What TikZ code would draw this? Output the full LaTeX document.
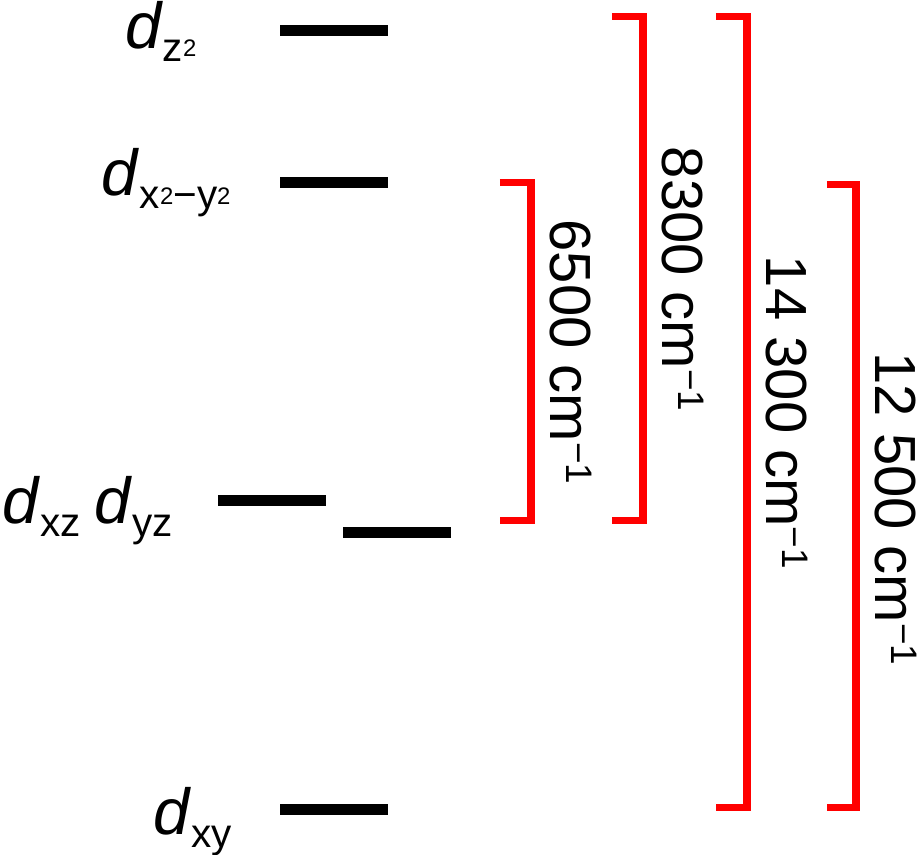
\documentclass[tikz,border=0pt]{standalone}
\usepackage{fontspec}
\setmainfont{Liberation Sans}
\usepackage{tikz}
\usetikzlibrary{positioning,calc}

\newcommand{\dorb}[1]{\textit{d}\raisebox{-0.2em}{\fontsize{11.5pt}{13pt}\selectfont #1}}
\newcommand{\tsq}{\raisebox{0.12em}{\fontsize{6.8pt}{8pt}\selectfont 2}}
\newcommand{\invcm}{cm\raisebox{0.28em}{\fontsize{10.5pt}{12pt}\selectfont −1}}

\begin{document}
\begin{tikzpicture}[x=0.01cm, y=-0.01cm,
  level/.style={fill=black, minimum width=1.08cm, minimum height=0.11cm, inner sep=0pt},
  orb/.style={font=\fontsize{18.5pt}{22pt}\selectfont, inner sep=0pt},
  gap/.style={red, line width=0.07cm, line join=miter},
  gaplabel/.style={rotate=-90, anchor=south, inner sep=0.15cm, text=black, font=\fontsize{16.5pt}{20pt}\selectfont}]
  \useasboundingbox (0,0) rectangle (917,855);
  % energy levels
  \node [level] at (334,31) (z2) {};
  \node [level] at (334,183) (x2y2) {};
  \node [level] at (272,501) (xz) {};
  \node [level] at (397,533) (yz) {};
  \node [level] at (334,810) (xy) {};
  % orbital labels
  \node [orb, left=0.82cm of z2] (Lz2) {\dorb{z\tsq}};
  \node [orb, left=0.48cm of x2y2] (Lx2y2) {\dorb{x\tsq−y\tsq}};
  \node [orb, left=0.44cm of xz, yshift=-0.1cm] (Lxzyz) {\dorb{xz}\hspace{0.2em}\dorb{yz}};
  \node [orb, left=0.47cm of xy, yshift=-0.12cm] (Lxy) {\dorb{xy}};
  % splittings
  \draw [gap] (500,183) -| node [gaplabel, pos=0.75] (g1) {6500 \invcm} (531,521) -- (500,521);
  \draw [gap] (612,17) -| node [gaplabel, pos=0.76] (g2) {8300 \invcm} (643,521) -- (612,521);
  \draw [gap] (716,17) -| node [gaplabel, pos=0.75] (g3) {14 300 \invcm} (747,808) -- (716,808);
  \draw [gap] (827,185) -| node [gaplabel, pos=0.76] (g4) {12 500 \invcm} (856,808) -- (827,808);
\end{tikzpicture}
\end{document}
